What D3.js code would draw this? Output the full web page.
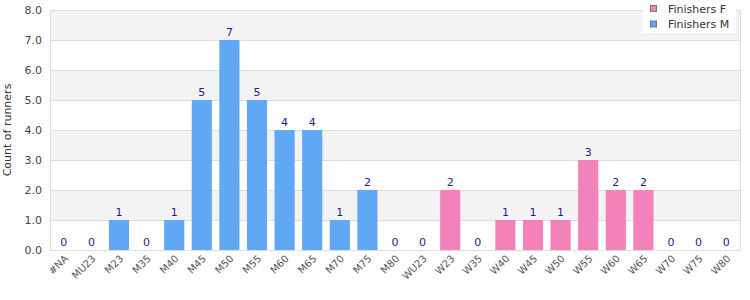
<!DOCTYPE html>
<html>
<head>
<meta charset="utf-8">
<script src="https://cdn.jsdelivr.net/npm/d3@7"></script>
<style>
body { margin: 0; background: #fff; }
text { font-family: "DejaVu Sans", sans-serif; }
</style>
</head>
<body>
<div id="chart"></div>
<script>
var categories = ["#NA","MU23","M23","M35","M40","M45","M50","M55","M60","M65","M70","M75","M80",
                  "WU23","W23","W35","W40","W45","W50","W55","W60","W65","W70","W75","W80"];
var finishersF = [0,0,0,0,0,0,0,0,0,0,0,0,0, 0,2,0,1,1,1,3,2,2,0,0,0];
var finishersM = [0,0,1,0,1,5,7,5,4,4,1,2,0, 0,0,0,0,0,0,0,0,0,0,0,0];
var yTicks = [0,1,2,3,4,5,6,7,8];

var seriesNames = ["Finishers F", "Finishers M"];
var colors = ["#f282b9", "#60a8f4"];

var margin = {top: 10, right: 10, bottom: 50, left: 50},
    width = 750 - margin.left - margin.right,
    height = 300 - margin.top - margin.bottom;

var svg = d3.select("#chart")
  .append("svg")
    .attr("width", 750)
    .attr("height", 300)
  .append("g")
    .attr("transform", "translate(" + margin.left + "," + margin.top + ")");

var x = d3.scaleBand()
  .range([0, width])
  .domain(categories)
  .paddingInner(0.27)
  .paddingOuter(0.135);

var y = d3.scaleLinear()
  .domain([0, 8])
  .range([height, 0]);

// alternating bands
svg.selectAll("band")
  .data(yTicks.slice(0, -1).filter(function(d) { return d % 2 === 1; }))
  .enter()
  .append("rect")
    .attr("x", 0)
    .attr("width", width)
    .attr("y", function(d) { return y(d + 1); })
    .attr("height", function(d) { return y(d) - y(d + 1); })
    .attr("fill", "#f3f3f3");

// grid lines
svg.selectAll("grid")
  .data(yTicks)
  .enter()
  .append("line")
    .attr("x1", 0)
    .attr("x2", width)
    .attr("y1", function(d) { return Math.round(y(d)) + 0.5; })
    .attr("y2", function(d) { return Math.round(y(d)) + 0.5; })
    .attr("stroke", "#dddddd");

// plot border
svg.append("rect")
  .attr("x", 0.5)
  .attr("y", 0.5)
  .attr("width", width)
  .attr("height", height)
  .attr("fill", "none")
  .attr("stroke", "#dddddd");

var data = categories.map(function(c, i) {
  return {cat: c, f: finishersF[i], m: finishersM[i]};
});

// bars
[finishersF, finishersM].forEach(function(vals, s) {
  svg.selectAll("bar" + s)
    .data(data.filter(function(d, i) { return vals[i] > 0; }))
    .enter()
    .append("rect")
      .attr("x", function(d) { return x(d.cat); })
      .attr("width", x.bandwidth())
      .attr("y", function(d) { return y(s === 0 ? d.f : d.m); })
      .attr("height", function(d) { return height - y(s === 0 ? d.f : d.m); })
      .attr("fill", colors[s]);
});

// value labels
svg.selectAll("vlabel")
  .data(data)
  .enter()
  .append("text")
    .attr("x", function(d) { return x(d.cat) + x.bandwidth() / 2; })
    .attr("y", function(d) { return y(d.f + d.m) - 4; })
    .attr("text-anchor", "middle")
    .style("font-size", "11px")
    .attr("fill", "#1c1c8c")
    .text(function(d) { return d.f + d.m; });

// y axis
var yAxis = svg.append("g")
  .call(d3.axisLeft(y).tickValues(yTicks).tickFormat(d3.format(".1f")).tickSize(0).tickPadding(8));
yAxis.select(".domain").remove();
yAxis.selectAll("text").style("font-size", "11px").attr("fill", "#444");

// x axis
var xAxis = svg.append("g")
  .attr("transform", "translate(0," + height + ")")
  .call(d3.axisBottom(x).tickSize(0).tickPadding(5));
xAxis.select(".domain").remove();
xAxis.selectAll("text")
  .style("font-size", "10px")
  .attr("fill", "#555")
  .style("text-anchor", "end")
  .attr("dx", "-0.3em")
  .attr("dy", "0.5em")
  .attr("transform", "rotate(-45)");

svg.append("text")
  .attr("transform", "rotate(-90)")
  .attr("y", 0 - margin.left + 11)
  .attr("x", 0 - (height / 2))
  .style("text-anchor", "middle")
  .style("font-size", "11px")
  .attr("fill", "#333")
  .text("Count of runners");

// legend
var legend = d3.select("svg").append("g")
  .attr("transform", "translate(643,0)");
legend.append("rect")
  .attr("width", 93)
  .attr("height", 33)
  .attr("fill", "#fff");
seriesNames.forEach(function(n, i) {
  legend.append("rect")
    .attr("x", 7.5)
    .attr("y", 5.5 + i * 15.5)
    .attr("width", 6)
    .attr("height", 6)
    .attr("fill", colors[i])
    .attr("stroke", "#777");
  legend.append("text")
    .attr("x", 25)
    .attr("y", 12.5 + i * 15.5)
    .style("font-size", "11px")
    .attr("fill", "#333")
    .text(n);
});
</script>
</body>
</html>
